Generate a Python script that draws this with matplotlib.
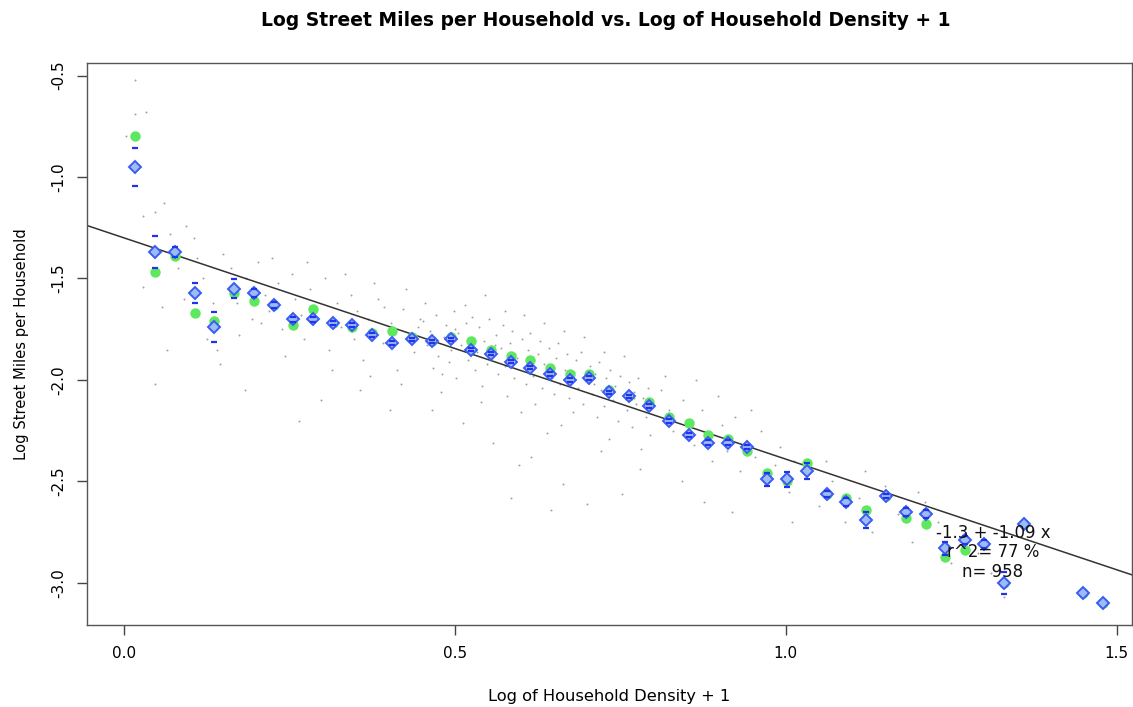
import numpy as np
import matplotlib.pyplot as plt

# binned values
bin_x = [0.017, 0.047, 0.077, 0.107, 0.136, 0.166, 0.196, 0.226, 0.256, 0.285,
         0.315, 0.345, 0.375, 0.405, 0.435, 0.465, 0.494, 0.524, 0.554, 0.584,
         0.614, 0.644, 0.674, 0.703, 0.733, 0.763, 0.793, 0.823, 0.853, 0.882,
         0.912, 0.942, 0.972, 1.002, 1.032, 1.062, 1.091, 1.121, 1.151, 1.181,
         1.211, 1.240, 1.270, 1.300, 1.330, 1.360, 1.449, 1.479]
bin_mean = [-0.95, -1.37, -1.37, -1.57, -1.74, -1.55, -1.57, -1.63, -1.70, -1.70,
            -1.72, -1.73, -1.78, -1.82, -1.80, -1.81, -1.80, -1.85, -1.87, -1.91,
            -1.94, -1.97, -2.00, -1.99, -2.06, -2.08, -2.13, -2.20, -2.27, -2.31,
            -2.31, -2.33, -2.49, -2.49, -2.45, -2.56, -2.60, -2.69, -2.57, -2.65,
            -2.66, -2.83, -2.79, -2.81, -3.00, -2.71, -3.05, -3.10]
bin_median = [-0.80, -1.47, -1.39, -1.67, -1.71, -1.57, -1.61, -1.63, -1.73, -1.65,
              -1.72, -1.74, -1.77, -1.76, -1.79, -1.81, -1.79, -1.81, -1.85, -1.88,
              -1.90, -1.94, -1.97, -1.97, -2.05, -2.08, -2.11, -2.18, -2.21, -2.27,
              -2.29, -2.35, -2.46, -2.50, -2.41, -2.56, -2.58, -2.64, -2.57, -2.68,
              -2.71, -2.87, -2.84, -2.81, -3.00, -2.71, -3.05, -3.10]
bin_se = [0.094, 0.080, 0.025, 0.050, 0.074, 0.047, 0.020, 0.015, 0.012, 0.012,
          0.010, 0.010, 0.010, 0.010, 0.008, 0.008, 0.008, 0.008, 0.008, 0.008,
          0.008, 0.008, 0.008, 0.008, 0.008, 0.008, 0.010, 0.010, 0.010, 0.012,
          0.012, 0.012, 0.030, 0.035, 0.040, 0.015, 0.020, 0.040, 0.010, 0.020,
          0.020, 0.030, 0.020, 0.020, 0.055, 0.0, 0.0, 0.0]

# individual observations (rough reading of the grey cloud)
cloud = [
    (0.017, -0.52), (0.017, -0.69), (0.033, -0.68), (0.003, -0.80), (0.060, -1.13),
    (0.028, -1.19), (0.046, -1.17), (0.094, -1.24), (0.070, -1.28), (0.105, -1.30),
    (0.029, -1.54), (0.058, -1.64), (0.082, -1.45), (0.047, -2.02), (0.120, -1.50),
    (0.135, -1.62), (0.140, -1.85), (0.125, -1.80), (0.110, -1.40), (0.090, -1.60),
    (0.145, -1.92), (0.150, -1.38), (0.065, -1.85),
    (0.162, -1.45), (0.171, -1.62), (0.184, -1.50), (0.193, -1.70), (0.202, -1.42),
    (0.213, -1.58), (0.219, -1.66), (0.233, -1.52), (0.238, -1.75), (0.254, -1.48),
    (0.259, -1.60), (0.272, -1.80), (0.281, -1.55), (0.287, -1.68), (0.303, -1.50),
    (0.309, -1.85), (0.322, -1.62), (0.328, -1.74), (0.343, -1.58), (0.352, -1.66),
    (0.361, -1.90), (0.368, -1.70), (0.384, -1.60), (0.391, -1.82), (0.404, -1.72),
    (0.413, -1.95), (0.421, -1.65), (0.433, -1.78), (0.438, -1.86), (0.447, -1.70),
    (0.183, -2.05), (0.264, -2.20), (0.298, -2.10), (0.356, -2.05), (0.402, -2.15),
    (0.224, -1.40), (0.276, -1.42), (0.334, -1.48), (0.377, -1.52), (0.426, -1.55),
    (0.174, -1.78), (0.243, -1.88), (0.314, -1.95), (0.372, -1.98), (0.418, -2.02),
    (0.268, -1.68), (0.347, -1.80), (0.393, -1.64), (0.444, -1.74), (0.207, -1.72),
    (0.452, -1.71), (0.458, -1.83), (0.463, -1.76), (0.467, -1.94), (0.471, -1.68),
    (0.474, -1.88), (0.479, -2.06), (0.483, -1.79), (0.486, -1.73), (0.491, -1.91),
    (0.494, -1.85), (0.498, -1.66), (0.502, -1.99), (0.505, -1.77), (0.509, -1.83),
    (0.512, -2.21), (0.516, -1.72), (0.519, -1.90), (0.523, -1.80), (0.526, -1.69),
    (0.531, -1.95), (0.534, -1.86), (0.537, -1.74), (0.541, -2.03), (0.544, -1.81),
    (0.548, -1.92), (0.551, -1.70), (0.555, -1.88), (0.558, -2.31), (0.562, -1.78),
    (0.565, -1.97), (0.569, -1.84), (0.572, -1.73), (0.576, -1.93), (0.579, -2.08),
    (0.583, -1.82), (0.586, -1.76), (0.589, -1.99), (0.593, -1.89), (0.597, -2.42),
    (0.601, -1.80), (0.604, -1.94), (0.607, -2.02), (0.611, -1.85), (0.614, -1.77),
    (0.618, -1.98), (0.621, -2.12), (0.625, -1.87), (0.628, -1.81), (0.632, -2.04),
    (0.635, -1.92), (0.639, -2.26), (0.642, -1.84), (0.646, -1.99), (0.649, -2.07),
    (0.653, -1.89), (0.656, -1.82), (0.659, -2.02), (0.663, -2.51), (0.666, -1.95),
    (0.669, -1.87), (0.673, -2.09), (0.676, -1.99), (0.679, -2.16), (0.683, -1.90),
    (0.686, -2.04), (0.690, -1.86), (0.693, -2.12), (0.697, -2.00), (0.700, -2.61),
    (0.704, -1.93), (0.707, -2.07), (0.711, -1.97), (0.714, -2.18), (0.718, -1.91),
    (0.721, -2.05), (0.725, -2.13), (0.728, -1.99), (0.732, -2.29), (0.735, -1.95),
    (0.739, -2.10), (0.742, -2.03), (0.746, -2.20), (0.749, -1.98), (0.753, -2.56),
    (0.756, -2.08), (0.760, -2.15), (0.763, -2.01), (0.767, -2.23), (0.770, -2.06),
    (0.774, -2.12), (0.777, -1.99), (0.781, -2.34), (0.784, -2.09), (0.788, -2.18),
    (0.791, -2.04), (0.795, -2.27), (0.798, -2.14), (0.455, -1.62), (0.515, -1.63),
    (0.575, -1.66), (0.635, -1.72), (0.695, -1.79), (0.755, -1.88), (0.480, -1.97),
    (0.540, -2.11), (0.600, -2.16), (0.660, -2.22), (0.720, -2.35), (0.780, -2.44),
    (0.530, -1.84), (0.590, -1.87), (0.650, -1.94), (0.710, -2.02), (0.770, -2.09),
    (0.500, -1.75), (0.560, -1.83), (0.620, -1.90), (0.680, -1.96), (0.740, -2.06),
    (0.545, -1.58), (0.605, -1.68), (0.665, -1.76), (0.725, -1.86), (0.585, -2.58),
    (0.645, -2.64), (0.465, -2.15), (0.615, -2.38),
    (0.812, -2.05), (0.823, -2.15), (0.829, -2.25), (0.844, -2.10), (0.853, -2.20),
    (0.861, -2.32), (0.874, -2.15), (0.883, -2.28), (0.889, -2.40), (0.904, -2.22),
    (0.911, -2.35), (0.923, -2.18), (0.931, -2.45), (0.942, -2.30), (0.953, -2.38),
    (0.962, -2.25), (0.971, -2.50), (0.984, -2.42), (0.991, -2.33), (1.004, -2.55),
    (0.843, -2.50), (0.877, -2.60), (0.918, -2.65), (0.864, -2.00), (0.897, -2.08),
    (0.948, -2.15), (0.817, -1.98), (1.012, -2.40),
    (1.03, -2.48), (1.05, -2.62), (1.07, -2.50), (1.09, -2.70), (1.11, -2.58),
    (1.13, -2.75), (1.15, -2.52), (1.17, -2.66), (1.19, -2.80), (1.21, -2.60),
    (1.23, -2.70), (1.25, -2.90), (1.27, -2.76), (1.29, -2.85), (1.33, -3.07),
    (1.36, -2.72), (1.45, -3.05), (1.48, -3.10), (1.06, -2.40), (1.12, -2.45),
    (1.20, -2.55), (1.31, -2.95), (1.01, -2.70),
]

intercept = -1.3
slope = -1.09
r2_pct = 77
n_obs = 958

fig = plt.figure(figsize=(11.33, 7.07), dpi=100)
ax = fig.add_axes([0.0768, 0.116, 0.9223, 0.795])

cx = [p[0] for p in cloud]
cy = [p[1] for p in cloud]
ax.scatter(cx, cy, s=2.0, color='#a0a0a0', linewidths=0, zorder=1)

xs = np.array([-0.1, 1.6])
ax.plot(xs, intercept + slope * xs, color='#333333', lw=1.1, zorder=2)

ax.plot(bin_x, bin_median, 'o', ms=7.5, color='#5ee85e', mec='none', zorder=3)
ax.plot(bin_x, bin_mean, 'D', ms=6.5, mfc='#9dbcf2', mec='#3a5cf5', mew=1.4, zorder=4)
m = np.array(bin_mean)
se = np.array(bin_se)
bx = np.array(bin_x)
has = se > 0
ax.plot(bx[has], (m + se)[has], '_', ms=4.5, mew=1.6, color='#2233ee', zorder=5)
ax.plot(bx[has], (m - se)[has], '_', ms=4.5, mew=1.6, color='#2233ee', zorder=5)

ann = dict(ha='center', va='center', fontsize=12, color='#111111', zorder=6)
ax.text(1.313, -2.754, f'{intercept} + {slope} x', **ann)
ax.text(1.313, -2.847, f'r^2= {r2_pct} %', **ann)
ax.text(1.313, -2.946, f'n= {n_obs}', **ann)

ax.set_xlim(-0.056, 1.523)
ax.set_ylim(-3.207, -0.438)
ax.set_xticks([0.0, 0.5, 1.0, 1.5])
ax.set_xticklabels(['0.0', '0.5', '1.0', '1.5'])
ax.set_yticks([-3.0, -2.5, -2.0, -1.5, -1.0, -0.5])
ax.set_yticklabels(['-3.0', '-2.5', '-2.0', '-1.5', '-1.0', '-0.5'], rotation=90, va='center')
ax.tick_params(length=7, width=1, color='#444444', labelsize=11, pad=8)
for s in ax.spines.values():
    s.set_color('#555555')
    s.set_linewidth(1)

ax.set_xlabel('Log of Household Density + 1', fontsize=11.7, labelpad=20)
ax.set_ylabel('Log Street Miles per Household', fontsize=10.6, labelpad=16)
fig.suptitle('Log Street Miles per Household vs. Log of Household Density + 1',
             x=0.535, y=0.985, fontsize=13.5, fontweight='bold')

fig.savefig('out.png', dpi=100)
